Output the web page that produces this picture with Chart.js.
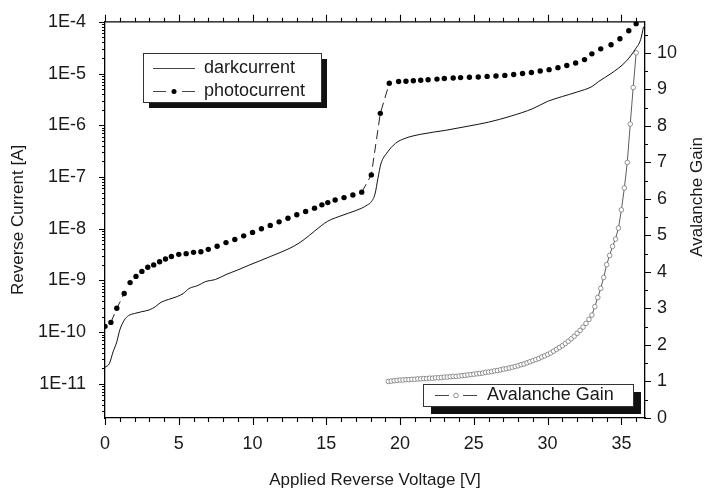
<!DOCTYPE html>
<html>
<head>
<meta charset="utf-8">
<script src="https://cdn.jsdelivr.net/npm/chart.js@4/dist/chart.umd.min.js"></script>
<style>
  html, body { margin: 0; padding: 0; background: #fff; }
  canvas { display: block; }
</style>
</head>
<body>
<canvas id="iv" width="712" height="491"></canvas>
<script>
// ── Measured data ────────────────────────────────────────────────────────────
const darkVoltage = [0, 0.3, 0.55, 0.8, 1.0, 1.3, 1.6, 2.0, 2.5, 3.0, 3.4, 3.8, 4.3, 4.9, 5.3, 5.7, 6.3, 6.8,
  7.5, 8.2, 9.0, 9.8, 10.5, 11.2, 12.0, 12.8, 13.5, 14.2, 15.1, 15.8, 16.5, 17.4, 17.8, 18.0, 18.3, 18.5, 18.7,
  19.1, 19.7, 20.35, 21.4, 23.1, 24.6, 26.0, 27.5, 29.0, 30.0, 31.0, 32.0, 33.0, 33.45, 34.3, 35.3, 35.96, 36.3, 36.5];
const darkCurrent = [2.1e-11, 2.5e-11, 4.2e-11, 6.5e-11, 1.1e-10, 1.7e-10, 2.1e-10, 2.3e-10, 2.5e-10, 2.7e-10,
  3.1e-10, 3.8e-10, 4.3e-10, 4.9e-10, 5.6e-10, 7.0e-10, 8.0e-10, 9.5e-10, 1.05e-9, 1.3e-9, 1.6e-9, 2.0e-9,
  2.4e-9, 2.9e-9, 3.6e-9, 4.6e-9, 6.2e-9, 9.0e-9, 1.4e-8, 1.7e-8, 2.0e-8, 2.5e-8, 2.9e-8, 3.2e-8, 4.7e-8,
  9.5e-8, 1.8e-7, 2.9e-7, 4.5e-7, 5.6e-7, 6.7e-7, 8.0e-7, 9.6e-7, 1.15e-6, 1.5e-6, 2.1e-6, 2.9e-6, 3.6e-6,
  4.4e-6, 5.6e-6, 7.0e-6, 1.0e-5, 1.7e-5, 3.0e-5, 4.5e-5, 8.0e-5];

const photoVoltage = [0, 0.4, 0.8, 1.3, 1.7, 2.1, 2.5, 2.9, 3.3, 3.7, 4.1, 4.5, 5.0, 5.5, 6.0, 6.5, 7.0, 7.6,
  8.2, 8.8, 9.4, 10.0, 10.6, 11.2, 11.8, 12.4, 13.0, 13.6, 14.2, 14.7, 15.1, 15.6, 16.2, 16.8, 17.4, 18.05,
  18.66, 19.27, 19.9, 20.4, 20.9, 21.4, 21.9, 22.5, 23.0, 23.6, 24.1, 24.7, 25.3, 25.9, 26.5, 27.1, 27.7,
  28.3, 28.9, 29.5, 30.1, 30.7, 31.3, 31.9, 32.5, 33.0, 33.6, 34.3, 34.9, 35.5, 36.0];
const photoCurrent = [1.3e-10, 1.55e-10, 2.9e-10, 5.6e-10, 9.1e-10, 1.2e-9, 1.5e-9, 1.8e-9, 2.0e-9, 2.3e-9,
  2.6e-9, 2.9e-9, 3.2e-9, 3.3e-9, 3.5e-9, 3.6e-9, 4.0e-9, 4.6e-9, 5.4e-9, 6.2e-9, 7.3e-9, 8.5e-9, 1.0e-8,
  1.16e-8, 1.36e-8, 1.6e-8, 1.86e-8, 2.15e-8, 2.5e-8, 2.9e-8, 3.2e-8, 3.6e-8, 4.0e-8, 4.5e-8, 5.1e-8,
  1.1e-7, 1.7e-6, 6.5e-6, 7.0e-6, 7.1e-6, 7.25e-6, 7.4e-6, 7.6e-6, 7.8e-6, 8.0e-6, 8.2e-6, 8.35e-6,
  8.45e-6, 8.6e-6, 8.8e-6, 8.95e-6, 9.2e-6, 9.6e-6, 1.0e-5, 1.05e-5, 1.12e-5, 1.19e-5, 1.3e-5, 1.43e-5,
  1.6e-5, 1.86e-5, 2.4e-5, 3.0e-5, 3.6e-5, 4.7e-5, 6.7e-5, 9.2e-5];

const gainVoltage = [19.2, 19.4, 19.6, 19.8, 20.0, 20.2, 20.4, 20.6, 20.8, 21.0, 21.2, 21.4, 21.6, 21.8, 22.0,
  22.2, 22.4, 22.6, 22.8, 23.0, 23.2, 23.4, 23.6, 23.8, 24.0, 24.2, 24.4, 24.6, 24.8, 25.0, 25.2, 25.4, 25.6,
  25.8, 26.0, 26.2, 26.4, 26.6, 26.8, 27.0, 27.2, 27.4, 27.6, 27.8, 28.0, 28.2, 28.4, 28.6, 28.8, 29.0, 29.2,
  29.4, 29.6, 29.8, 30.0, 30.2, 30.4, 30.6, 30.8, 31.0, 31.2, 31.4, 31.6, 31.8, 32.0, 32.2, 32.4, 32.6, 32.8,
  33.0, 33.2, 33.4, 33.6, 33.8, 34.0, 34.2, 34.4, 34.6, 34.8, 35.0, 35.2, 35.4, 35.6, 35.8, 36.0];
const gainValue = [1.00, 1.01, 1.02, 1.03, 1.04, 1.04, 1.05, 1.05, 1.06, 1.06, 1.07, 1.07, 1.08, 1.08, 1.09,
  1.09, 1.10, 1.10, 1.11, 1.12, 1.12, 1.13, 1.14, 1.14, 1.15, 1.16, 1.17, 1.18, 1.19, 1.20, 1.21, 1.22, 1.23,
  1.25, 1.26, 1.27, 1.29, 1.30, 1.32, 1.34, 1.35, 1.37, 1.39, 1.41, 1.43, 1.46, 1.48, 1.51, 1.54, 1.57, 1.60,
  1.63, 1.67, 1.70, 1.74, 1.78, 1.83, 1.88, 1.93, 1.98, 2.04, 2.10, 2.17, 2.24, 2.32, 2.40, 2.49, 2.59, 2.70,
  2.82, 3.05, 3.30, 3.55, 3.85, 4.20, 4.45, 4.70, 4.90, 5.20, 5.70, 6.30, 7.00, 8.05, 9.05, 10.0];

const voltageTicks = [0, 5, 10, 15, 20, 25, 30, 35];
const currentExponents = [-11, -10, -9, -8, -7, -6, -5, -4];
const gainTicks = [0, 1, 2, 3, 4, 5, 6, 7, 8, 9, 10];

// ── Helpers ──────────────────────────────────────────────────────────────────
const FONT = "'Liberation Sans', Arial, Helvetica, sans-serif";
const INK = '#1a1a1a';
const pairs = (xs, ys) => xs.map((x, i) => ({ x, y: ys[i] }));

// the dashed photocurrent line only shows between dots that sit far apart
const dashWhereLong = c => {
  const dx = c.p1.x - c.p0.x, dy = c.p1.y - c.p0.y;
  return Math.hypot(dx, dy) > 13 ? '#222' : 'rgba(0,0,0,0)';
};

// axis ticks, frame top, titles and boxed legends
const decorations = {
  id: 'decorations',
  afterDraw(chart) {
    const { ctx, chartArea: a, scales } = chart;
    const sx = scales.x, sy = scales.y, sg = scales.y2;
    ctx.save();
    ctx.strokeStyle = '#000';
    ctx.lineWidth = 1.3;

    // top frame
    ctx.beginPath();
    ctx.moveTo(a.left, a.top);
    ctx.lineTo(a.right, a.top);
    ctx.stroke();

    ctx.lineWidth = 1.1;
    ctx.beginPath();
    // voltage ticks, bottom and top, every volt
    for (let v = 0; v <= sx.max; v += 1) {
      const px = Math.round(sx.getPixelForValue(v)) + 0.5;
      const len = voltageTicks.includes(v) ? 7 : 4;
      ctx.moveTo(px, a.bottom); ctx.lineTo(px, a.bottom + len);
      ctx.moveTo(px, a.top); ctx.lineTo(px, a.top - len);
    }
    // current ticks, decades plus 2..9 minors
    currentExponents.concat([-12]).forEach(e => {
      for (let m = 1; m <= 9; m++) {
        const val = m * Math.pow(10, e);
        if (val < sy.min || val > sy.max) continue;
        const py = Math.round(sy.getPixelForValue(val)) + 0.5;
        const len = m === 1 ? 6 : 3;
        ctx.moveTo(a.left, py); ctx.lineTo(a.left - len, py);
      }
    });
    // gain ticks, every half unit
    for (let g = 0; g <= sg.max; g += 0.5) {
      const py = Math.round(sg.getPixelForValue(g)) + 0.5;
      const len = Number.isInteger(g) ? 6 : 3;
      ctx.moveTo(a.right, py); ctx.lineTo(a.right + len, py);
    }
    ctx.stroke();

    // axis titles
    ctx.fillStyle = INK;
    ctx.font = `17px ${FONT}`;
    ctx.textAlign = 'center';
    ctx.textBaseline = 'middle';
    ctx.fillText('Applied Reverse Voltage [V]', (a.left + a.right) / 2, a.bottom + 62);
    ctx.save();
    ctx.translate(18, (a.top + a.bottom) / 2);
    ctx.rotate(-Math.PI / 2);
    ctx.fillText('Reverse Current [A]', 0, 0);
    ctx.restore();
    ctx.save();
    ctx.translate(697, 197);
    ctx.rotate(-Math.PI / 2);
    ctx.fillText('Avalanche Gain', 0, 0);
    ctx.restore();

    // legend boxes with drop shadow
    const box = (x, y, w, h, off) => {
      ctx.fillStyle = '#111';
      ctx.fillRect(x + off, y + off, w, h);
      ctx.fillStyle = '#fff';
      ctx.fillRect(x, y, w, h);
      ctx.strokeStyle = '#333';
      ctx.lineWidth = 1;
      ctx.strokeRect(x + 0.5, y + 0.5, w, h);
    };
    const seg = (x1, x2, y) => {
      ctx.beginPath(); ctx.moveTo(x1, y); ctx.lineTo(x2, y); ctx.stroke();
    };

    box(143, 53, 178, 49, 6);
    ctx.strokeStyle = '#444';
    ctx.lineWidth = 1;
    seg(153, 195, 68.5);
    seg(153, 166, 91.5);
    seg(182, 195, 91.5);
    ctx.fillStyle = '#000';
    ctx.beginPath(); ctx.arc(174, 91.5, 2.5, 0, Math.PI * 2); ctx.fill();
    ctx.fillStyle = INK;
    ctx.font = `18px ${FONT}`;
    ctx.textAlign = 'left';
    ctx.fillText('darkcurrent', 204, 68);
    ctx.fillText('photocurrent', 204, 91);

    box(423, 384, 210, 22, 8);
    ctx.strokeStyle = '#444';
    seg(435, 449, 395.5);
    seg(463, 477, 395.5);
    ctx.strokeStyle = '#777';
    ctx.lineWidth = 0.8;
    ctx.beginPath(); ctx.arc(456, 395.5, 2.3, 0, Math.PI * 2); ctx.stroke();
    ctx.fillStyle = INK;
    ctx.fillText('Avalanche Gain', 487, 395);

    ctx.restore();
  }
};

const tickFont = { family: FONT, size: 18 };

new Chart(document.getElementById('iv').getContext('2d'), {
  type: 'line',
  data: {
    datasets: [
      {
        label: 'darkcurrent',
        data: pairs(darkVoltage, darkCurrent),
        yAxisID: 'y',
        borderColor: '#111',
        borderWidth: 1,
        pointRadius: 0,
        cubicInterpolationMode: 'monotone'
      },
      {
        label: 'photocurrent',
        data: pairs(photoVoltage, photoCurrent),
        yAxisID: 'y',
        borderColor: '#222',
        borderWidth: 1,
        borderDash: [9, 5],
        segment: { borderColor: dashWhereLong },
        pointRadius: 2.7,
        pointBorderWidth: 0,
        pointBackgroundColor: '#000'
      },
      {
        label: 'Avalanche Gain',
        data: pairs(gainVoltage, gainValue),
        yAxisID: 'y2',
        borderColor: '#333',
        borderWidth: 0.8,
        pointRadius: 2.3,
        pointBorderWidth: 0.8,
        pointBorderColor: '#777',
        pointBackgroundColor: '#fff'
      }
    ]
  },
  options: {
    responsive: false,
    animation: false,
    layout: { padding: { top: 20, left: 0, right: 0, bottom: 0 } },
    plugins: { legend: { display: false }, tooltip: { enabled: false } },
    scales: {
      x: {
        type: 'linear',
        min: 0,
        max: 36.6,
        afterBuildTicks: s => { s.ticks = voltageTicks.map(value => ({ value })); },
        ticks: { font: tickFont, color: INK, padding: 7, maxRotation: 0 },
        grid: { display: false },
        border: { color: '#000', width: 1.3 },
        afterFit: s => { s.height = 73; }
      },
      y: {
        type: 'logarithmic',
        position: 'left',
        min: 2.2e-12,
        max: 1e-4,
        afterBuildTicks: s => { s.ticks = currentExponents.map(e => ({ value: Math.pow(10, e) })); },
        ticks: {
          font: tickFont, color: INK, padding: 11,
          callback: v => '1E' + Math.round(Math.log10(v))
        },
        grid: { display: false },
        border: { color: '#000', width: 1.3 },
        afterFit: s => { s.width = 105; }
      },
      y2: {
        type: 'linear',
        position: 'right',
        min: 0,
        max: 10.85,
        afterBuildTicks: s => { s.ticks = gainTicks.map(value => ({ value })); },
        ticks: { font: tickFont, color: INK, padding: 4 },
        grid: { display: false },
        border: { color: '#000', width: 1.3 },
        afterFit: s => { s.width = 67; }
      }
    }
  },
  plugins: [decorations]
});
</script>
</body>
</html>
